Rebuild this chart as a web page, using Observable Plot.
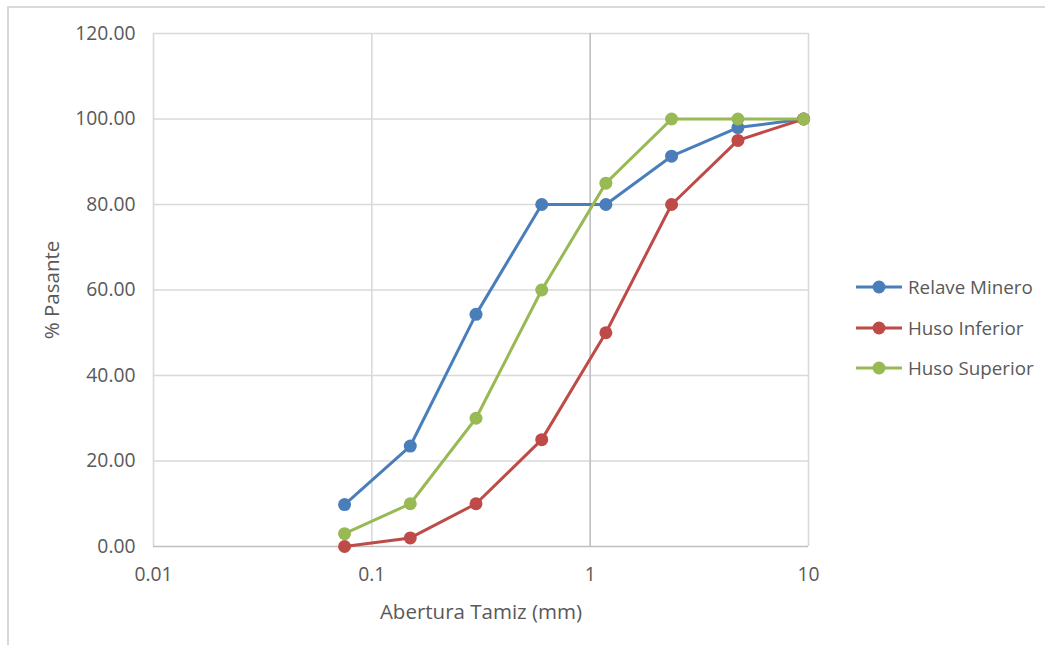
<!DOCTYPE html>
<html>
<head>
<meta charset="utf-8">
<script src="https://cdn.jsdelivr.net/npm/d3@7"></script>
<script src="https://cdn.jsdelivr.net/npm/@observablehq/plot@0.6"></script>
<style>
  html, body { margin: 0; padding: 0; background: #fff; }
  #wrap { position: relative; width: 1045px; height: 645px; overflow: hidden; font-family: "Open Sans", sans-serif; }
  #chart { position: absolute; left: 0; top: 0; }
  #border { position: absolute; left: 7px; top: 6px; width: 1100px; height: 700px; border-left: 2px solid #d9d9d9; border-top: 2px solid #d9d9d9; }
  #legend { position: absolute; left: 855px; top: 267px; }
  .item { display: flex; align-items: center; height: 40.5px; font-size: 18.8px; color: #595959; }
  .item svg { margin-right: 5px; }
</style>
</head>
<body>
<div id="wrap">
  <div id="border"></div>
  <div id="chart"></div>
  <div id="legend"></div>
</div>
<script>
// ---- data ----
const sizes = [0.075, 0.15, 0.3, 0.6, 1.18, 2.36, 4.75, 9.5];
const relaveMinero = [9.8, 23.5, 54.3, 80, 80, 91.3, 98, 100];
const husoInferior = [0, 2, 10, 25, 50, 80, 95, 100];
const husoSuperior = [3, 10, 30, 60, 85, 100, 100, 100];
const seriesNames = ["Relave Minero", "Huso Inferior", "Huso Superior"];
const seriesColors = ["#4a7ebb", "#be4b48", "#98b954"];
const xTicks = [0.01, 0.1, 1, 10];
const xTickLabels = ["0.01", "0.1", "1", "10"];
const yTicks = [0, 20, 40, 60, 80, 100, 120];

const seriesValues = [relaveMinero, husoInferior, husoSuperior];
const data = [];
seriesNames.forEach((name, i) => {
  sizes.forEach((s, j) => data.push({series: name, size: s, value: seriesValues[i][j]}));
});

const W = 1045, H = 645;
const chart = Plot.plot({
  width: W,
  height: H,
  marginLeft: 153,
  marginRight: 237,
  marginTop: 33,
  marginBottom: 99,
  style: {fontFamily: "'Open Sans', sans-serif", fontSize: "19px", color: "#595959", background: "transparent", overflow: "visible"},
  x: {type: "log", domain: [0.01, 10]},
  y: {domain: [0, 120]},
  color: {domain: seriesNames, range: seriesColors},
  marks: [
    Plot.ruleY(yTicks.filter(d => d > 0), {stroke: "#d9d9d9", strokeWidth: 1.6}),
    Plot.ruleX([0.01, 0.1, 10], {stroke: "#d9d9d9", strokeWidth: 1.6}),
    Plot.ruleX([1], {stroke: "#bfbfbf", strokeWidth: 1.6}),
    Plot.ruleY([0], {stroke: "#bfbfbf", strokeWidth: 1.6}),
    Plot.axisY({ticks: yTicks, tickFormat: d => d.toFixed(2), tickSize: 0, tickPadding: 18, fontSize: 19.3, label: null}),
    Plot.axisY({ticks: [], tickSize: 0, fontSize: 20.5,
      label: "% Pasante", labelAnchor: "center", labelOffset: 109, labelArrow: false}),
    Plot.axisX({ticks: xTicks, tickFormat: d => xTickLabels[xTicks.indexOf(d)], tickSize: 0, tickPadding: 21, fontSize: 19.3, label: null}),
    Plot.axisX({ticks: [], tickSize: 0, fontSize: 20.5,
      label: "Abertura Tamiz (mm)", labelAnchor: "center", labelOffset: 72, labelArrow: false}),
    Plot.line(data, {x: "size", y: "value", z: "series", stroke: "series", strokeWidth: 3}),
    Plot.dot(data, {x: "size", y: "value", fill: "series", r: 6.5})
  ]
});
document.getElementById("chart").appendChild(chart);

// legend
const legend = document.getElementById("legend");
seriesNames.forEach((name, i) => {
  const item = document.createElement("div");
  item.className = "item";
  item.innerHTML = `<svg width="48" height="16"><line x1="1" y1="8" x2="47" y2="8" stroke="${seriesColors[i]}" stroke-width="3"/><circle cx="24" cy="8" r="6.5" fill="${seriesColors[i]}"/></svg><span>${name}</span>`;
  legend.appendChild(item);
});
</script>
</body>
</html>
